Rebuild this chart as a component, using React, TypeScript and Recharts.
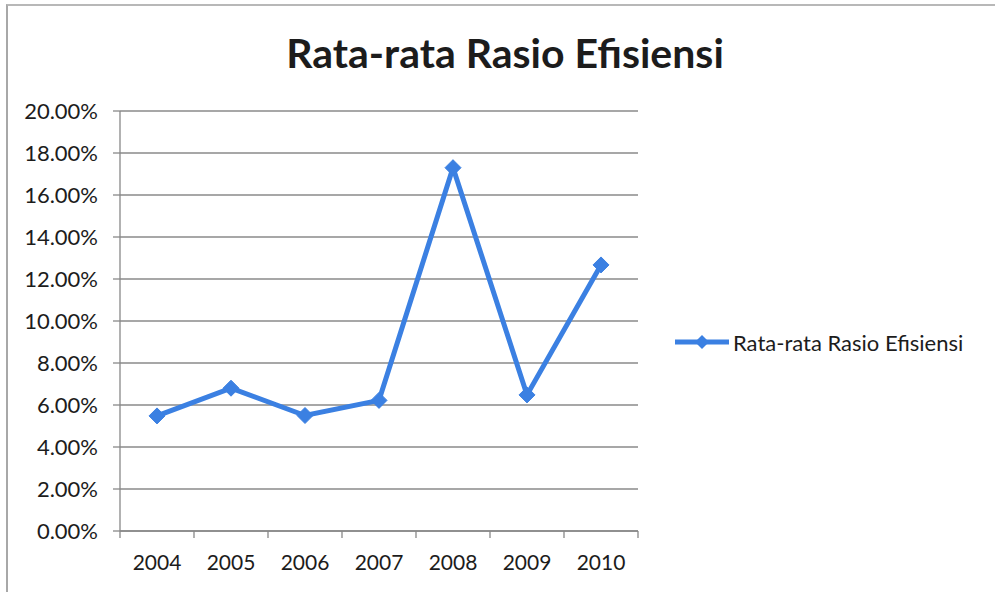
import React from "react";
import { LineChart, Line, XAxis, YAxis, CartesianGrid } from "recharts";

const years = ["2004", "2005", "2006", "2007", "2008", "2009", "2010"];
const ratios = [0.0548, 0.068, 0.055, 0.0622, 0.173, 0.0648, 0.1267];
const yTicks = [0, 0.02, 0.04, 0.06, 0.08, 0.1, 0.12, 0.14, 0.16, 0.18, 0.2];
const seriesName = "Rata-rata Rasio Efisiensi";
const title = "Rata-rata Rasio Efisiensi";

const data = years.map((y, i) => ({ year: y, value: ratios[i] }));

const FONT = "Lato, 'Open Sans', sans-serif";
const BLUE = "#3B80E2";
const AXIS = "#888";
const X_TICK_MARGIN = 24;

const Diamond = (props: any) => {
  const { cx, cy } = props;
  if (cx == null || cy == null) return null;
  const r = 8;
  return (
    <path
      d={`M${cx},${cy - r} L${cx + r},${cy} L${cx},${cy + r} L${cx - r},${cy} Z`}
      fill={BLUE}
      stroke={BLUE}
      strokeWidth={1}
    />
  );
};

const YearTick = (props: any) => {
  const { x, y, payload, index, visibleTicksCount, width } = props;
  const count = visibleTicksCount || years.length;
  const w = typeof width === "number" ? width : 518;
  const half = w / count / 2;
  const axisY = y - X_TICK_MARGIN;
  return (
    <g>
      <line x1={x - half} y1={axisY} x2={x - half} y2={axisY + 7} stroke={AXIS} strokeWidth={1.3} />
      {index === count - 1 && (
        <line x1={x + half} y1={axisY} x2={x + half} y2={axisY + 7} stroke={AXIS} strokeWidth={1.3} />
      )}
      <text
        x={x}
        y={y}
        dy="0.71em"
        textAnchor="middle"
        fill="#1c1c1c"
        fontSize={21}
        fontFamily={FONT}
      >
        {payload.value}
      </text>
    </g>
  );
};

export default function App() {
  return (
    <div
      style={{
        position: "absolute",
        left: 0,
        top: 0,
        width: 995,
        height: 592,
        background: "#fff",
        fontFamily: FONT,
      }}
    >
      <div
        style={{
          position: "absolute",
          left: 6,
          top: 4,
          width: 989,
          height: 586,
          borderLeft: "2px solid #a8a8a8",
          borderTop: "2px solid #b8b8b8",
          borderBottom: "2px solid #b0b0b0",
        }}
      />
      <div
        style={{
          position: "absolute",
          left: 0,
          top: 28,
          width: 1010,
          textAlign: "center",
          fontSize: 41,
          fontWeight: 700,
          color: "#1c1c1c",
          fontFamily: FONT,
        }}
      >
        {title}
      </div>
      <div style={{ position: "absolute", left: 0, top: 0 }}>
        <LineChart
          width={995}
          height={592}
          data={data}
          margin={{ top: 111, right: 357, bottom: 21, left: 20 }}
        >
          <CartesianGrid vertical={false} stroke="#8a8a8a" strokeWidth={1.3} />
          <XAxis
            dataKey="year"
            scale="band"
            tickLine={false}
            tickSize={0}
            tickMargin={X_TICK_MARGIN}
            axisLine={{ stroke: AXIS, strokeWidth: 1.3 }}
            tick={<YearTick />}
            interval={0}
            height={40}
          />
          <YAxis
            domain={[0, 0.2]}
            ticks={yTicks}
            tickFormatter={(v: number) => (v * 100).toFixed(2) + "%"}
            tick={{ fill: "#1c1c1c", fontSize: 22, fontFamily: FONT }}
            tickLine={{ stroke: AXIS, strokeWidth: 1.3 }}
            tickSize={7}
            tickMargin={15}
            axisLine={{ stroke: AXIS, strokeWidth: 1.3 }}
            width={100}
            interval={0}
          />
          <Line
            type="linear"
            dataKey="value"
            name={seriesName}
            stroke={BLUE}
            strokeWidth={5}
            dot={<Diamond />}
            activeDot={false}
            isAnimationActive={false}
          />
        </LineChart>
      </div>
      <div
        style={{
          position: "absolute",
          left: 675,
          top: 328,
          display: "flex",
          alignItems: "center",
          fontFamily: FONT,
          fontSize: 22,
          color: "#1c1c1c",
        }}
      >
        <svg width={56} height={28} style={{ display: "block" }}>
          <line x1={0} y1={14} x2={54} y2={14} stroke={BLUE} strokeWidth={5} />
          <path d="M27,7 L34,14 L27,21 L20,14 Z" fill={BLUE} />
        </svg>
        <span style={{ marginLeft: 2 }}>{seriesName}</span>
      </div>
    </div>
  );
}
